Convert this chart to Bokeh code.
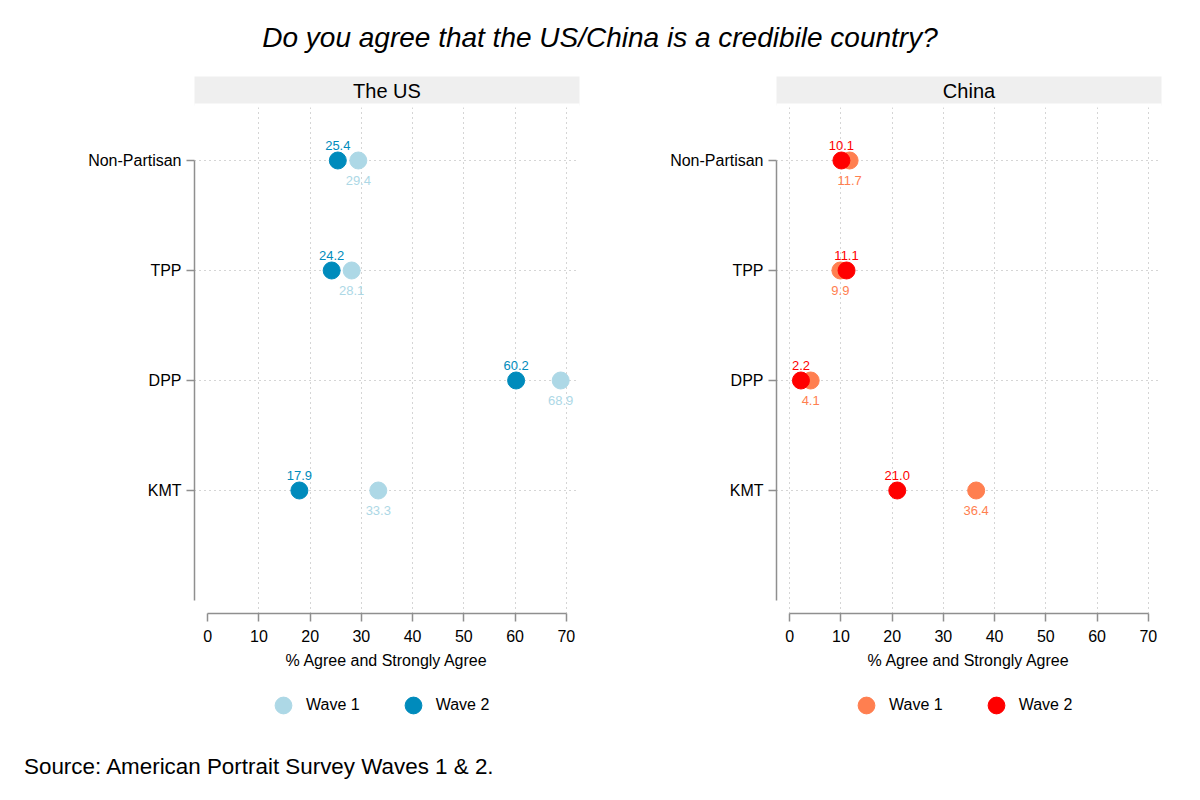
from bokeh.plotting import figure
from bokeh.models import Range1d, FixedTicker, Legend, LegendItem, Div
from bokeh.layouts import column, row
from bokeh.embed import file_html
from bokeh.resources import INLINE
from bokeh.core.properties import value

FONT = "Liberation Sans"

# ---- data ----
parties = ["KMT", "DPP", "TPP", "Non-Partisan"]          # bottom -> top
us_wave1 = [33.3, 68.9, 28.1, 29.4]
us_wave2 = [17.9, 60.2, 24.2, 25.4]
cn_wave1 = [36.4, 4.1, 9.9, 11.7]
cn_wave2 = [21.0, 2.2, 11.1, 10.1]
x_ticks = [0, 10, 20, 30, 40, 50, 60, 70]
panel_titles = ["The US", "China"]
series_names = ["Wave 1", "Wave 2"]
main_title = "Do you agree that the US/China is a credibile country?"
source_note = "Source: American Portrait Survey Waves 1 & 2."
x_label = "% Agree and Strongly Agree"

US_COLORS = ["#ADD8E6", "#008BBC"]
CN_COLORS = ["#FF7F50", "#FF0000"]
AXIS_COLOR = "#8F8F8F"
GRID_COLOR = "#ABABAB"


def make_panel(title, w1, w2, colors, border_left, border_right, grid_ticks):
    ypos = [i + 1 for i in range(len(parties))]
    p = figure(frame_width=385, frame_height=537,
               min_border_left=border_left, min_border_right=border_right,
               min_border_top=8, min_border_bottom=70,
               x_range=Range1d(-2.57, 72.57), y_range=Range1d(-0.11818, 4.7636),
               output_backend="svg", toolbar_location=None,
               background_fill_color="white", border_fill_color="white")
    p.outline_line_color = None

    # grids
    p.xgrid.ticker = FixedTicker(ticks=grid_ticks)
    p.ygrid.ticker = FixedTicker(ticks=ypos)
    for g in (p.xgrid, p.ygrid):
        g.grid_line_color = GRID_COLOR
        g.grid_line_dash = "1 4"
        g.grid_line_width = 1

    # x axis
    xa = p.xaxis[0]
    xa.ticker = FixedTicker(ticks=x_ticks)
    xa.bounds = (x_ticks[0], x_ticks[-1])
    xa.axis_label = x_label
    # y axis
    ya = p.yaxis[0]
    ya.ticker = FixedTicker(ticks=ypos)
    ya.bounds = (0, len(parties))
    ya.major_label_overrides = {y: name for y, name in zip(ypos, parties)}
    for ax in (xa, ya):
        ax.axis_line_color = AXIS_COLOR
        ax.axis_line_width = 1.5
        ax.major_tick_line_color = AXIS_COLOR
        ax.major_tick_line_width = 1.5
        ax.major_tick_out = 8
        ax.major_tick_in = 0
        ax.minor_tick_out = 0
        ax.minor_tick_in = 0
        ax.major_label_text_font = FONT
        ax.major_label_text_font_size = "16px"
        ax.major_label_text_color = "black"
        ax.axis_label_text_font = FONT
        ax.axis_label_text_font_size = "16px"
        ax.axis_label_text_font_style = "normal"
        ax.axis_label_text_color = "black"
    xa.major_label_standoff = 8
    xa.axis_label_standoff = 7
    ya.major_label_standoff = 5

    # panel title bar
    p.quad(left=[-10], right=[90], top=[10], bottom=[4.5],
           fill_color="#EFEFEF", line_color="white", line_width=4)
    p.text(x=[35], y=[4.636], text=[title], text_font=value(FONT),
           text_font_size="20px", text_align="center", text_baseline="middle",
           text_color="black")

    # markers (wave 2 drawn on top)
    p.scatter(x=w1, y=ypos, size=17, fill_color=colors[0], line_color=colors[0])
    p.scatter(x=w2, y=ypos, size=17, fill_color=colors[1], line_color=colors[1])

    # value labels
    p.text(x=w1, y=[y - 0.18 for y in ypos], text=[f"{v:.1f}" for v in w1],
           text_font=value(FONT), text_font_size="13px", text_align="center",
           text_baseline="middle", text_color=colors[0])
    p.text(x=w2, y=[y + 0.136 for y in ypos], text=[f"{v:.1f}" for v in w2],
           text_font=value(FONT), text_font_size="13px", text_align="center",
           text_baseline="middle", text_color=colors[1])
    return p


def make_legend(colors, width, left):
    q = figure(width=width, height=47, x_range=Range1d(0, 1), y_range=Range1d(0, 1),
               min_border=0, output_backend="svg", toolbar_location=None,
               background_fill_color="white", border_fill_color="white")
    q.outline_line_color = None
    q.axis.visible = False
    q.grid.visible = False
    # legend swatches (drawn outside the visible range, shown only in the legend)
    r1 = q.scatter(x=[-5], y=[-5], size=17, fill_color=colors[0], line_color=colors[0])
    r2 = q.scatter(x=[-5], y=[-5], size=17, fill_color=colors[1], line_color=colors[1])
    legend = Legend(items=[LegendItem(label=series_names[0], renderers=[r1]),
                           LegendItem(label=series_names[1], renderers=[r2])],
                    orientation="horizontal", location=(left, 4),
                    glyph_width=42, glyph_height=42, label_standoff=2,
                    spacing=32, padding=0, margin=0,
                    label_text_font=FONT, label_text_font_size="16px",
                    label_text_color="black",
                    border_line_alpha=0, background_fill_alpha=0)
    q.add_layout(legend, "center")
    return q


p1 = make_panel(panel_titles[0], us_wave1, us_wave2, US_COLORS, 194, 21, x_ticks[1:])
p2 = make_panel(panel_titles[1], cn_wave1, cn_wave2, CN_COLORS, 176, 30, x_ticks)
l1 = make_legend(US_COLORS, 600, 262)
l2 = make_legend(CN_COLORS, 591, 245)

title_div = Div(text=f'<div style="width:1200px;padding-top:8px;text-align:center;font-family:\'{FONT}\';'
                     f'font-style:italic;font-size:28px;line-height:60px;color:black;white-space:nowrap;">{main_title}</div>',
                width=1200, height=68, margin=(0, 0, 0, 0))
source_div = Div(text=f'<div style="padding-top:26px;padding-left:24px;font-family:\'{FONT}\';'
                      f'font-size:22.4px;line-height:22px;color:black;white-space:nowrap;">{source_note}</div>',
                 width=1190, height=60, margin=(0, 0, 0, 0))

layout = column(title_div, row(p1, p2), row(l1, l2), source_div)

with open("out.html", "w") as f:
    f.write(file_html(layout, INLINE))
